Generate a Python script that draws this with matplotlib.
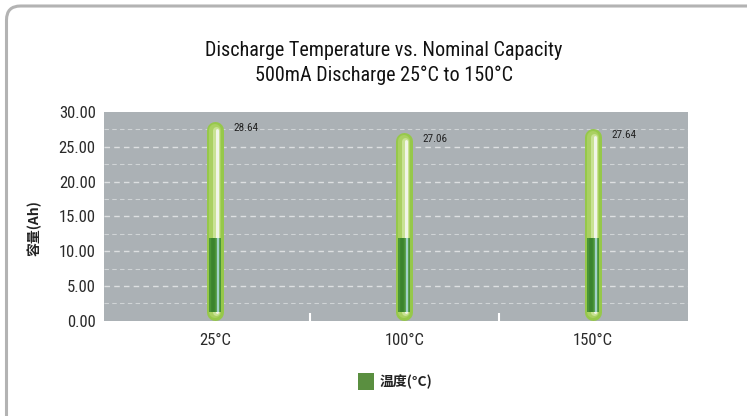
import matplotlib
matplotlib.use("Agg")
import matplotlib.pyplot as plt
from matplotlib import font_manager
from matplotlib.patches import FancyBboxPatch, Rectangle
from matplotlib.transforms import IdentityTransform

# ---- data ----
categories = ["25°C", "100°C", "150°C"]
capacity = [28.64, 27.06, 27.64]
fill_level = [11.9, 11.9, 11.9]
value_labels = ["28.64", "27.06", "27.64"]
yticks = [0, 5, 10, 15, 20, 25, 30]
title_lines = ["Discharge Temperature vs. Nominal Capacity", "500mA Discharge 25°C to 150°C"]
ylabel = "容量(Ah)"
legend_label = "温度(°C)"

names = {f.name for f in font_manager.fontManager.ttflist}
narrow = next((n for n in ["Roboto Condensed", "Archivo Narrow", "PT Sans Narrow", "Liberation Sans Narrow"]
               if n in names), "DejaVu Sans")
FAM = [narrow, "Noto Sans CJK SC", "DejaVu Sans"]
CJK = ["Noto Sans CJK SC", "DejaVu Sans"]
plt.rcParams["font.family"] = FAM

W, H, DPI = 747, 416, 100
fig = plt.figure(figsize=(W / DPI, H / DPI), dpi=DPI)
fig.patch.set_facecolor("white")

# outer rounded frame
frame = FancyBboxPatch((6.5, -40), 800, H - 6 + 40, boxstyle="round,pad=0,rounding_size=14",
                       transform=IdentityTransform(), fill=False, edgecolor="#b3b3b3", linewidth=2.2)
fig.patches.append(frame)

L, R, T, B = 104, 688, 112, 320.8
XL, XR = -0.59, 2.503
ax = fig.add_axes([L / W, (H - B) / H, (R - L) / W, (B - T) / H])
ax.set_facecolor("#abb1b5")
for s in ax.spines.values():
    s.set_visible(False)
ax.set_ylim(0, 30)
ax.set_xlim(XL, XR)

# grid
for g in [2.5 * i for i in range(1, 12)]:
    major = abs(g / 5 - round(g / 5)) < 1e-6
    ax.axhline(g, color="white", lw=1.0 if major else 0.8, alpha=0.6 if major else 0.45,
               dashes=(4, 3), zorder=1)

ax.set_yticks(yticks)
ax.set_yticklabels([f"{v:.2f}" for v in yticks], fontsize=12, color="#2a2a2a")
ax.set_xticks(range(len(categories)))
ax.set_xticklabels(categories, fontsize=12, color="#2a2a2a")
ax.tick_params(axis="y", length=0, pad=6)
ax.tick_params(axis="x", length=0, pad=9)
ax.set_xticks([0.5, 1.5], minor=True)
ax.tick_params(axis="x", which="minor", direction="in", length=6, width=1.5, color="white")

px_per_unit = (B - T) / 30.0
px_x = (R - L) / (XR - XL)
pt = 72.0 / DPI

outer_w, inner_w = 17, 12
for i, (v, f) in enumerate(zip(capacity, fill_level)):
    ro = outer_w / 2 / px_per_unit
    ax.plot([i, i], [ro, v - ro], color="#96c84a", lw=outer_w * pt, solid_capstyle="round", zorder=3)
    inset = 2.5 / px_per_unit
    ri = inner_w / 2 / px_per_unit
    # light upper tube
    ax.plot([i, i], [inset + ri, v - inset - ri], color="#aad062", lw=inner_w * pt,
            solid_capstyle="round", zorder=3.1)
    dx = 1.0 / px_x
    ax.plot([i + dx, i + dx], [inset + ri, v - inset - ri], color="#c9e294", lw=7 * pt,
            solid_capstyle="round", zorder=3.15)
    ax.plot([i + 2 * dx, i + 2 * dx], [inset + ri, v - inset - ri], color="#f1f5e8", lw=3 * pt,
            solid_capstyle="round", zorder=3.2)
    # dark lower fill
    ax.plot([i, i], [inset + ri, f], color="#4a9437", lw=inner_w * pt, solid_capstyle="butt", zorder=3.3)
    ax.plot([i, i], [inset + ri, inset + ri + 0.01], color="#4a9437", lw=inner_w * pt,
            solid_capstyle="round", zorder=3.3)
    ax.plot([i - 2.5 * dx, i - 2.5 * dx], [inset + ri, f], color="#3b842e", lw=3.5 * pt,
            solid_capstyle="butt", zorder=3.4)
    ax.plot([i + 3 * dx, i + 3 * dx], [inset + ri, f], color="#a2d2c9", lw=2.4 * pt,
            solid_capstyle="butt", zorder=3.4)
    ax.annotate(value_labels[i], xy=(i, v), xytext=(18 * pt, -7 * pt), textcoords="offset points",
                ha="left", va="center", fontsize=8, color="#222222", zorder=5)

# title
fig.text(384 / W, (H - 50) / H, title_lines[0], ha="center", va="center", fontsize=14.5, color="#111111")
fig.text(384 / W, (H - 75.5) / H, title_lines[1], ha="center", va="center", fontsize=14.5, color="#111111")

# y label
fig.text(35 / W, (H - 228) / H, ylabel, rotation=90, ha="center", va="center", fontsize=10,
         fontweight="bold", family=CJK, color="#222222")

# legend
fig.patches.append(Rectangle((358, H - 390), 16, 17, transform=IdentityTransform(),
                             facecolor="#5a8f40", edgecolor="none"))
fig.text(380 / W, (H - 382) / H, legend_label, ha="left", va="center", fontsize=10,
         fontweight="bold", family=CJK, color="#222222")

fig.savefig("out.png", dpi=DPI)
